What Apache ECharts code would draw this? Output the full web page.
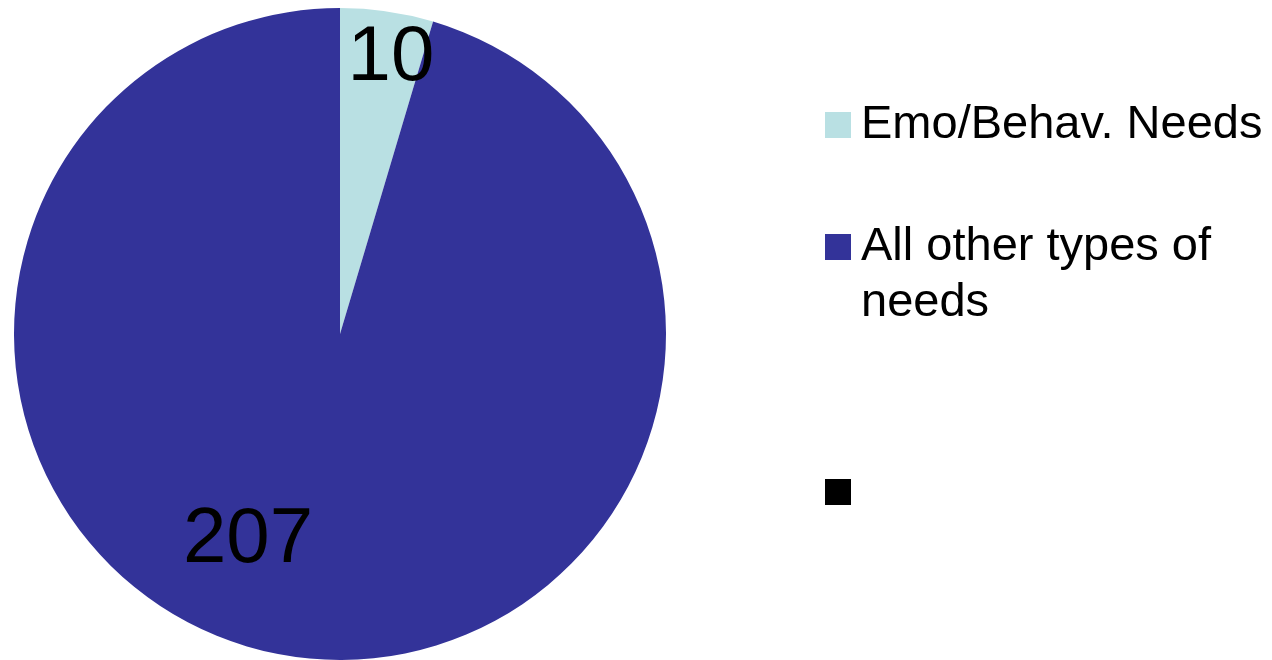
<!DOCTYPE html>
<html>
<head>
<meta charset="utf-8">
<script src="https://cdn.jsdelivr.net/npm/echarts@6/dist/echarts.min.js"></script>
<style>
  html, body { margin: 0; padding: 0; background: #ffffff; }
  #chart { width: 1272px; height: 660px; }
</style>
</head>
<body>
<div id="chart"></div>
<script>
// Categories and counts of pupils by type of need
const categories = ['Emo/Behav. Needs', 'All other types of needs', ' '];
const counts = [10, 207, 0];
const colors = ['#B9E0E3', '#333399', '#000000'];

// Label nudges (px) away from the default inside position of each slice
const labelShift = [[27, -111], [-68, 42], [0, 0]];

const FONT = "'Liberation Sans', Arial, Helvetica, sans-serif";

const chart = echarts.init(document.getElementById('chart'), null, { renderer: 'canvas' });

const seriesData = categories.map((name, i) => ({
  name: name,
  value: counts[i],
  itemStyle: { color: colors[i] },
  label: { show: counts[i] > 0 }
}));

function legendFor(idx, top, extra) {
  return Object.assign({
    data: [categories[idx]],
    left: 825,
    top: top,
    orient: 'vertical',
    padding: 0,
    icon: 'rect',
    itemWidth: 26,
    itemHeight: 26,
    selectedMode: false,
    textStyle: {
      fontFamily: FONT,
      fontSize: 47,
      color: '#000000',
      lineHeight: 56,
      padding: [0, 0, 0, 5]
    }
  }, extra || {});
}

// The wrapped entry gets an empty leading line so its first text line sits level with the swatch
const wrapped = legendFor(1, 163, {
  formatter: function (name) { return ' \n' + name; }
});
wrapped.textStyle.width = 400;
wrapped.textStyle.overflow = 'break';

chart.setOption({
  backgroundColor: '#ffffff',
  animation: false,
  legend: [
    legendFor(0, 97),
    wrapped,
    legendFor(2, 464)
  ],
  series: [{
    type: 'pie',
    center: [340, 334],
    radius: 326,
    startAngle: 90,
    clockwise: true,
    avoidLabelOverlap: false,
    label: {
      position: 'inside',
      formatter: '{c}',
      fontFamily: FONT,
      fontSize: 78,
      color: '#000000'
    },
    labelLine: { show: false },
    emphasis: { disabled: true },
    labelLayout: function (params) {
      const s = labelShift[params.dataIndex] || [0, 0];
      return { dx: s[0], dy: s[1] };
    },
    data: seriesData
  }]
});
</script>
</body>
</html>
